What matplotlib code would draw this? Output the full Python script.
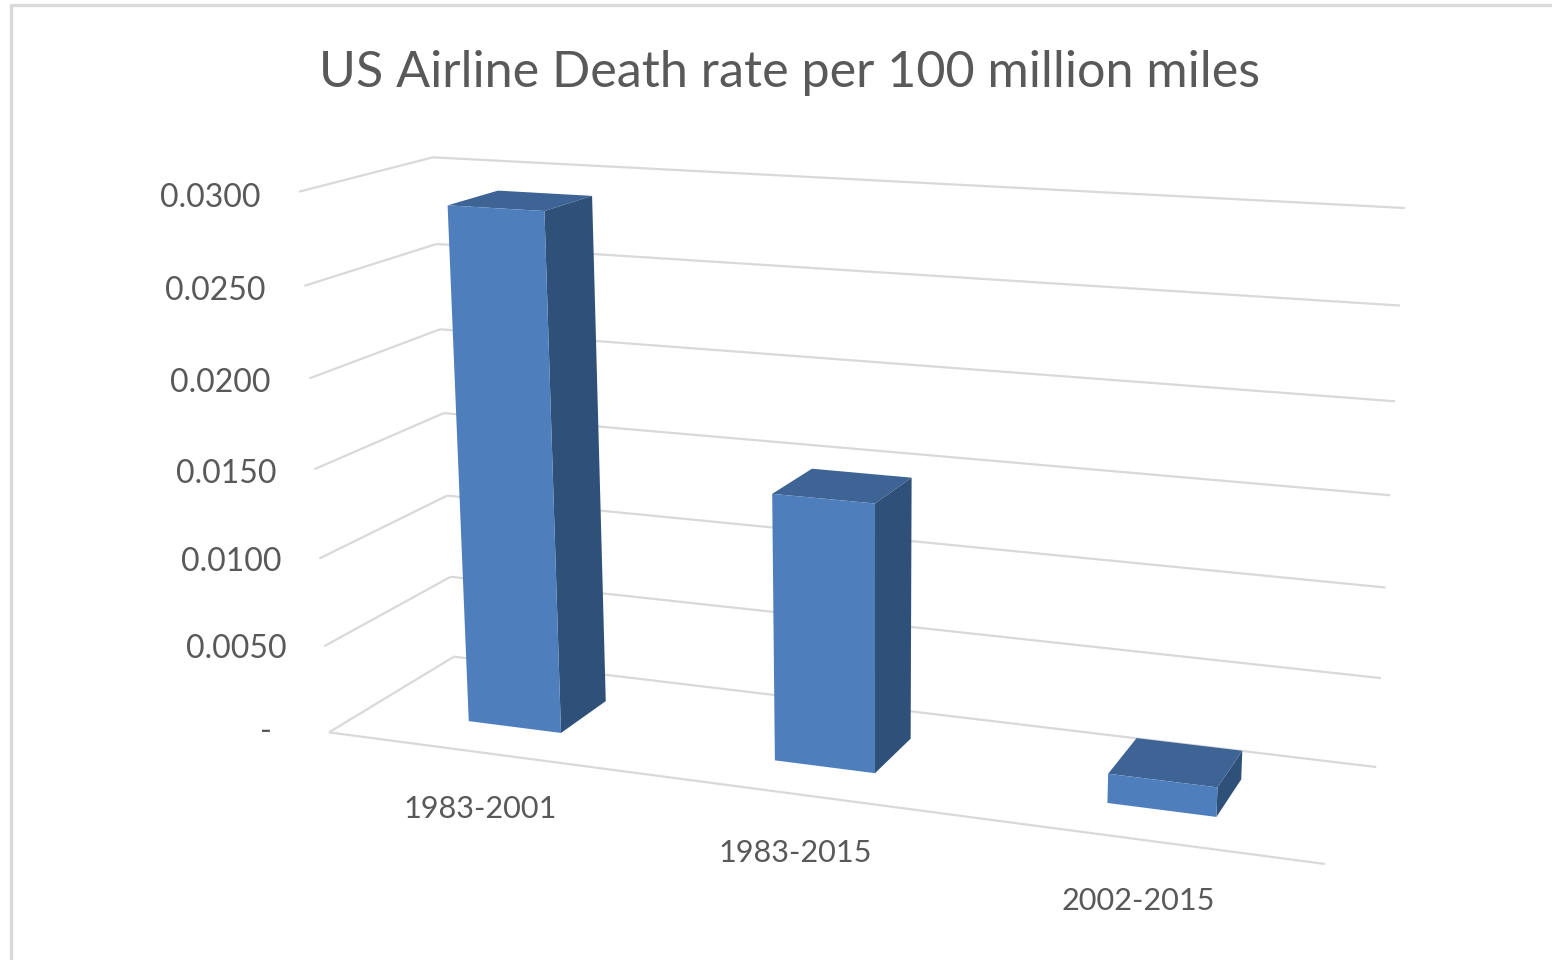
import matplotlib
matplotlib.use('Agg')
import matplotlib.pyplot as plt
from matplotlib.lines import Line2D
from mpl_toolkits.mplot3d import proj3d
from mpl_toolkits.mplot3d.art3d import Line3DCollection
import numpy as np

# chart data
categories = ['1983-2001', '1983-2015', '2002-2015']
values = [0.0290, 0.0148, 0.0016]
ticks = [0.0, 0.005, 0.01, 0.015, 0.02, 0.025, 0.03]
tick_labels = ['-', '0.0050', '0.0100', '0.0150', '0.0200', '0.0250', '0.0300']

W, H = 1552, 960
BAR_W = 0.31
BAR_Y0, BAR_Y1 = 0.30, 0.70
GRID = '#d9d9d9'
TEXT = '#595959'
plt.rcParams['font.family'] = ['Lato', 'DejaVu Sans']

# camera: box corners (x, depth, value share) against where they sit in the picture
box = [(0, 0, 0), (3, 0, 0), (0, 1, 0), (3, 1, 0), (0, 1, 1), (3, 1, 1), (0, 0, 1)]
pix = [(328, 732), (1325, 864), (455, 657), (1376, 767), (432, 157), (1405, 208), (300, 192)]


def fit_camera(box, pix, zmax):
    A, b = [], []
    for (x, y, z), (u, v) in zip(box, pix):
        v = H - v
        A.append([x, y, z, 1, 0, 0, 0, 0, -u * x, -u * y, -u * z])
        A.append([0, 0, 0, 0, x, y, z, 1, -v * x, -v * y, -v * z])
        b += [u, v]
    p = np.linalg.lstsq(np.array(A, float), np.array(b, float), rcond=None)[0]
    P = np.append(p, 1).reshape(3, 4)
    P[:, 2] /= zmax
    # third row is only used for depth sorting
    return np.array([P[0], P[1], [0, 1, 0, 0], P[2]])


def label(x, y, z, s, ha, size):
    u, v, _ = proj3d.proj_transform(x, y, z, M)
    ax.text2D(float(u), float(v), s, transform=ax.transData, ha=ha, va='center',
              fontsize=size, color=TEXT)


fig = plt.figure(figsize=(W / 100, H / 100), dpi=100, facecolor='white')
ax = fig.add_axes([0, 0, 1, 1], projection='3d')
ax.set_axis_off()
ax.computed_zorder = False
ax.set_xlim(0, 3)
ax.set_ylim(0, 1)
ax.set_zlim(0, max(ticks))
ax.set_xticks([])
ax.set_yticks([])
ax.set_zticks([])

M = fit_camera(box, pix, max(ticks))
ax.get_proj = lambda: M
ax.apply_aspect = lambda position=None: None
ax.viewLim.intervalx = (0, W)
ax.viewLim.intervaly = (0, H)

# gridlines on the side wall, back wall and floor
segs = [[(0, 0, 0), (3, 0, 0)]]
for t in ticks:
    segs.append([(0, 0, t), (0, 1, t)])
    segs.append([(0, 1, t), (3, 1, t)])
ax.add_collection3d(Line3DCollection(segs, colors=GRID, linewidths=1.6, zorder=1), autolim=False)

# bars, faces go -z +z -y +y -x +x and only the three visible ones get a colour
none = (0, 0, 0, 0)
face_colors = [none, '#3d6494', '#4e7fbc', none, none, '#2f5179']
xpos = np.arange(len(values)) + 0.5 - BAR_W / 2
ax.bar3d(xpos, [BAR_Y0] * 3, [0] * 3, BAR_W, BAR_Y1 - BAR_Y0, values,
         color=face_colors * len(values), shade=False, zorder=2)

for t, lab in zip(ticks, tick_labels):
    # the dash keeps the blank space of the number format behind it
    x = -0.20 if lab == '-' else -0.13
    label(x, 0, t - 0.00045, lab, 'right', 23)
for i, lab in enumerate(categories):
    label(i + 0.5, 0.0, -0.0033, lab, 'center', 22.1)

fig.text(790 / W, 1 - 73 / H, 'US Airline Death rate per 100 million miles',
         ha='center', va='center', fontsize=36.2, color=TEXT)

# chart frame, runs off the picture right and below
fig.add_artist(Line2D([11 / W, 11 / W, 1], [0, 1 - 5 / H, 1 - 5 / H], color=GRID, lw=2.4))

fig.savefig('out.png', dpi=100)
